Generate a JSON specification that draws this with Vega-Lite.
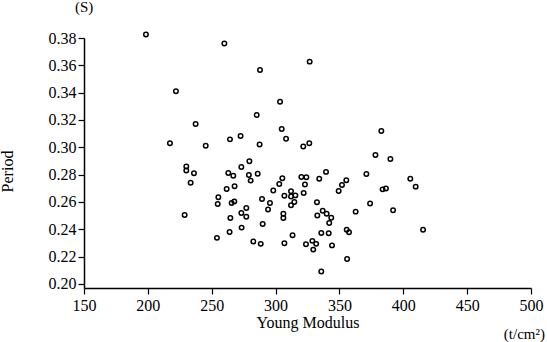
{
  "$schema": "https://vega.github.io/schema/vega-lite/v6.json",
  "width": 447,
  "height": 250,
  "autosize": "none",
  "padding": {"left": 84, "top": 38, "right": 16, "bottom": 54},
  "background": "white",
  "title": {"text": "(S)", "anchor": "start", "frame": "group", "dx": -9, "offset": 14, "font": "Liberation Serif", "fontSize": 15, "fontWeight": "normal", "color": "black"},
  "config": {
    "view": {"stroke": null},
    "axis": {"grid": false, "domainColor": "black", "tickColor": "black", "labelColor": "black", "titleColor": "black", "labelFont": "Liberation Serif", "titleFont": "Liberation Serif", "labelFontSize": 16, "titleFontSize": 16, "titleFontWeight": "normal", "domainWidth": 1.5, "tickWidth": 1.2, "tickSize": 6, "labelOverlap": false, "labelBound": false, "labelFlush": false}
  },
  "data": {"values": [
    {"E": 198.5, "T": 0.3826}, {"E": 222, "T": 0.341}, {"E": 237.4, "T": 0.317}, {"E": 217.3, "T": 0.303},
    {"E": 230.1, "T": 0.286}, {"E": 230.1, "T": 0.283}, {"E": 236.1, "T": 0.281}, {"E": 233.5, "T": 0.274},
    {"E": 228.8, "T": 0.2505}, {"E": 259.9, "T": 0.376}, {"E": 326.7, "T": 0.3627}, {"E": 287.8, "T": 0.3566},
    {"E": 303.5, "T": 0.3334}, {"E": 285.2, "T": 0.3237}, {"E": 304.8, "T": 0.3134}, {"E": 308.2, "T": 0.3063},
    {"E": 272.6, "T": 0.3083}, {"E": 264.3, "T": 0.3058}, {"E": 245.3, "T": 0.3012}, {"E": 287.5, "T": 0.302},
    {"E": 321.7, "T": 0.3005}, {"E": 326.4, "T": 0.303}, {"E": 382.8, "T": 0.312},
    {"E": 273.2, "T": 0.2856}, {"E": 279.5, "T": 0.2897}, {"E": 263.0, "T": 0.2812}, {"E": 266.9, "T": 0.2792},
    {"E": 279.1, "T": 0.2797}, {"E": 286.0, "T": 0.2807}, {"E": 280.5, "T": 0.2756}, {"E": 267.9, "T": 0.2714},
    {"E": 261.7, "T": 0.2695}, {"E": 255.2, "T": 0.2634}, {"E": 254.7, "T": 0.2585}, {"E": 265.6, "T": 0.2593},
    {"E": 267.7, "T": 0.2604}, {"E": 277.1, "T": 0.2556}, {"E": 273.2, "T": 0.2519}, {"E": 277.1, "T": 0.2492},
    {"E": 264.6, "T": 0.2483}, {"E": 289.4, "T": 0.2622}, {"E": 295.6, "T": 0.2593}, {"E": 294.1, "T": 0.2544},
    {"E": 289.9, "T": 0.2439}, {"E": 273.4, "T": 0.2412}, {"E": 264.0, "T": 0.238}, {"E": 254.1, "T": 0.2337},
    {"E": 282.6, "T": 0.231}, {"E": 288.4, "T": 0.2293}, {"E": 298.2, "T": 0.2683}, {"E": 302.9, "T": 0.2732},
    {"E": 305.3, "T": 0.2773}, {"E": 306.9, "T": 0.2646}, {"E": 306.1, "T": 0.2514}, {"E": 306.1, "T": 0.2483},
    {"E": 312.1, "T": 0.2678}, {"E": 315.5, "T": 0.2648}, {"E": 312.1, "T": 0.2639}, {"E": 314.7, "T": 0.26},
    {"E": 312.1, "T": 0.2575}, {"E": 320.2, "T": 0.2783}, {"E": 324.1, "T": 0.278}, {"E": 323.0, "T": 0.2727},
    {"E": 322.0, "T": 0.2666}, {"E": 306.9, "T": 0.2297}, {"E": 313.3, "T": 0.2356}, {"E": 323.8, "T": 0.229},
    {"E": 328.8, "T": 0.2315}, {"E": 331.8, "T": 0.2293}, {"E": 329.5, "T": 0.2251}, {"E": 335.8, "T": 0.209},
    {"E": 332.4, "T": 0.2597}, {"E": 334.2, "T": 0.277}, {"E": 339.5, "T": 0.282}, {"E": 336.9, "T": 0.2536},
    {"E": 332.7, "T": 0.25}, {"E": 340.0, "T": 0.2514}, {"E": 343.6, "T": 0.2485}, {"E": 342.0, "T": 0.2446},
    {"E": 335.8, "T": 0.2373}, {"E": 341.6, "T": 0.237}, {"E": 344.2, "T": 0.2282}, {"E": 349.4, "T": 0.268},
    {"E": 352.0, "T": 0.2724}, {"E": 355.4, "T": 0.2758}, {"E": 355.7, "T": 0.2397}, {"E": 357.5, "T": 0.2378},
    {"E": 356.0, "T": 0.2183}, {"E": 362.7, "T": 0.2529},
    {"E": 378.2, "T": 0.2944}, {"E": 389.9, "T": 0.2915}, {"E": 371.1, "T": 0.2805}, {"E": 405.5, "T": 0.277},
    {"E": 409.7, "T": 0.2712}, {"E": 383.8, "T": 0.2692}, {"E": 386.4, "T": 0.2699}, {"E": 374.0, "T": 0.2588},
    {"E": 392.0, "T": 0.2539}, {"E": 415.5, "T": 0.2397}
  ]},
  "encoding": {
    "x": {"field": "E", "type": "quantitative", "scale": {"domain": [150, 500], "nice": false, "zero": false},
          "axis": {"values": [150, 200, 250, 300, 350, 400, 450, 500], "title": "Young Modulus", "labelPadding": 3, "titlePadding": 1, "labelOverlap": false}},
    "y": {"field": "T", "type": "quantitative", "scale": {"domain": [0.197, 0.38], "nice": false, "zero": false},
          "axis": {"values": [0.2, 0.22, 0.24, 0.26, 0.28, 0.3, 0.32, 0.34, 0.36, 0.38], "format": ".2f", "title": "Period", "labelPadding": 2, "titleX": -69, "titleY": 133, "labelOverlap": false}}
  },
  "layer": [
    {
      "mark": {"type": "point", "shape": "circle", "filled": false, "stroke": "black", "strokeWidth": 1.5, "size": 20, "opacity": 1}
    },
    {
      "data": {"values": [{"E": 500, "T": 0.197, "label": "(t/cm²)"}]},
      "mark": {"type": "text", "align": "right", "baseline": "middle", "dx": 14, "dy": 46, "font": "Liberation Serif", "fontSize": 15, "color": "black"},
      "encoding": {
        "text": {"field": "label"}
      }
    }
  ]
}
